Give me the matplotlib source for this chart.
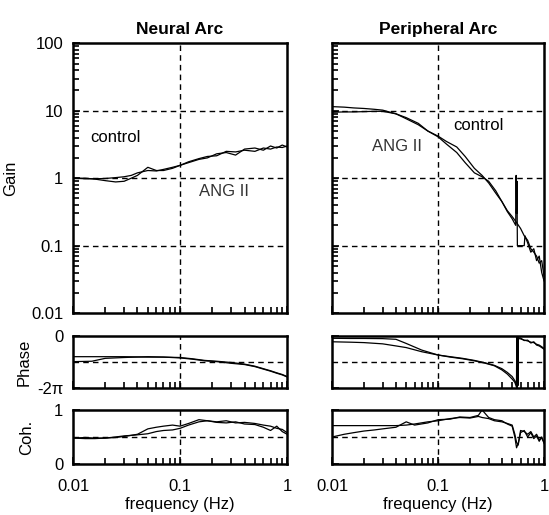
import matplotlib
matplotlib.use("Agg")
import matplotlib.pyplot as plt
from matplotlib.ticker import FixedLocator, LogLocator, NullFormatter
import numpy as np

plt.rcParams["font.family"] = ["Liberation Sans", "DejaVu Sans"]
plt.rcParams["font.size"] = 12

# neural arc, gain
f_ng = [0.01, 0.013, 0.016, 0.02, 0.025, 0.03, 0.035, 0.04, 0.05, 0.06, 0.07, 0.085, 0.1,
        0.12, 0.15, 0.18, 0.22, 0.27, 0.33, 0.4, 0.5, 0.6, 0.7, 0.8, 0.9, 1.0]
ng_control = [1.0, 0.98, 0.98, 0.99, 1.02, 1.05, 1.1, 1.2, 1.3, 1.28, 1.35, 1.45, 1.55,
              1.75, 1.95, 2.1, 2.15, 2.5, 2.45, 2.6, 2.5, 2.8, 2.7, 2.9, 2.85, 3.0]
ng_ang = [1.0, 1.0, 0.97, 0.92, 0.88, 0.9, 1.0, 1.1, 1.45, 1.3, 1.3, 1.4, 1.55,
          1.7, 1.9, 2.0, 2.3, 2.4, 2.2, 2.7, 2.8, 2.6, 3.0, 2.8, 3.1, 2.9]

# peripheral arc, gain
f_pg_control = [0.01, 0.013, 0.016, 0.02, 0.025, 0.03, 0.04, 0.05, 0.065, 0.08, 0.1, 0.12,
                0.15, 0.18, 0.22, 0.26, 0.3, 0.35, 0.4, 0.45, 0.5, 0.55, 0.6, 0.65, 0.7,
                0.75, 0.8, 0.85, 0.9, 0.95, 1.0]
pg_control = [11.5, 11.3, 11.0, 10.8, 10.5, 10.2, 9.0, 7.9, 6.5, 5.0, 4.2, 3.5,
              2.9, 2.1, 1.4, 1.1, 0.85, 0.6, 0.45, 0.33, 0.27, 0.22, 0.18, 0.14, 0.12,
              0.09, 0.08, 0.07, 0.055, 0.06, 0.035]
f_pg_ang = [0.01, 0.013, 0.016, 0.02, 0.025, 0.03, 0.04, 0.05, 0.065, 0.08, 0.1, 0.12,
            0.15, 0.18, 0.22, 0.26, 0.3, 0.35, 0.4, 0.45, 0.5, 0.54, 0.545, 0.55, 0.555,
            0.56, 0.6, 0.65, 0.66, 0.7, 0.75, 0.8, 0.85, 0.9, 0.95, 1.0]
pg_ang = [9.5, 9.6, 9.6, 9.7, 9.8, 9.8, 9.0, 7.6, 6.2, 5.0, 4.1, 3.2,
          2.4, 1.7, 1.2, 1.05, 0.9, 0.65, 0.45, 0.32, 0.25, 0.2, 1.1, 0.3, 0.9,
          0.1, 0.1, 0.1, 0.14, 0.11, 0.08, 0.09, 0.06, 0.07, 0.04, 0.03]

# neural arc, phase (rad)
f_np = [0.01, 0.015, 0.02, 0.03, 0.05, 0.07, 0.1, 0.13, 0.17, 0.22, 0.3, 0.4, 0.5, 0.6,
        0.7, 0.8, 0.9, 1.0]
np_control = [-2.5, -2.5, -2.5, -2.5, -2.55, -2.55, -2.6, -2.75, -2.95, -3.05, -3.2, -3.4,
              -3.65, -3.95, -4.2, -4.45, -4.65, -4.9]
np_ang = [-3.1, -3.05, -2.7, -2.6, -2.5, -2.55, -2.65, -2.8, -3.0, -3.1, -3.3, -3.45,
          -3.7, -4.0, -4.25, -4.5, -4.7, -4.95]

# peripheral arc, phase (rad), wraps near 0.55 Hz
f_pp = [0.01, 0.015, 0.02, 0.03, 0.04, 0.05, 0.07, 0.1, 0.13, 0.17, 0.22, 0.28, 0.34,
        0.4, 0.45, 0.5, 0.53, 0.55, 0.552, 0.555, 0.558, 0.56, 0.563, 0.566, 0.57,
        0.6, 0.65, 0.7, 0.75, 0.8, 0.85, 0.9, 0.95, 1.0]
pp_control = [-0.28, -0.3, -0.3, -0.32, -0.4, -0.9, -1.7, -2.3, -2.5, -2.7, -2.95, -3.25,
              -3.55, -3.95, -4.4, -4.9, -5.4, -5.9, -0.3, -6.1, -0.5, -5.8, -0.2, -6.0,
              -0.3, -0.35, -0.5, -0.6, -0.75, -0.8, -1.0, -1.1, -1.3, -1.5]
pp_ang = [-0.7, -0.75, -0.8, -0.95, -1.2, -1.4, -1.9, -2.3, -2.55, -2.75, -3.0, -3.3,
          -3.6, -4.1, -4.6, -5.2, -5.6, -6.2, -0.1, -5.5, -0.4, -6.2, -0.15, -5.9,
          -0.2, -0.25, -0.55, -0.5, -0.85, -0.7, -1.1, -1.2, -1.4, -1.6]

# neural arc, coherence
f_nc = f_ng
nc_control = [0.48, 0.47, 0.47, 0.48, 0.5, 0.52, 0.53, 0.55, 0.65, 0.68, 0.7, 0.72, 0.7,
              0.75, 0.82, 0.8, 0.78, 0.8, 0.76, 0.77, 0.75, 0.72, 0.7, 0.66, 0.64, 0.58]
nc_ang = [0.48, 0.49, 0.48, 0.48, 0.49, 0.51, 0.53, 0.54, 0.56, 0.6, 0.62, 0.63, 0.66,
          0.72, 0.78, 0.8, 0.77, 0.76, 0.78, 0.74, 0.73, 0.68, 0.62, 0.7, 0.6, 0.55]

# peripheral arc, coherence
f_pc = [0.01, 0.013, 0.016, 0.02, 0.025, 0.03, 0.04, 0.05, 0.06, 0.08, 0.1, 0.13, 0.16,
        0.2, 0.24, 0.26, 0.3, 0.34, 0.4, 0.45, 0.5, 0.53, 0.55, 0.57, 0.6, 0.65, 0.7,
        0.75, 0.8, 0.85, 0.9, 0.95, 1.0]
pc_control = [0.71, 0.71, 0.71, 0.71, 0.71, 0.71, 0.71, 0.72, 0.74, 0.78, 0.8, 0.84, 0.86,
              0.85, 0.88, 0.86, 0.84, 0.8, 0.78, 0.75, 0.72, 0.55, 0.4, 0.35, 0.62, 0.6,
              0.55, 0.6, 0.5, 0.55, 0.45, 0.48, 0.4]
pc_ang = [0.5, 0.55, 0.58, 0.61, 0.63, 0.65, 0.68, 0.78, 0.72, 0.76, 0.82, 0.83, 0.87,
          0.86, 0.9, 1.0, 0.86, 0.82, 0.8, 0.74, 0.7, 0.5, 0.3, 0.38, 0.58, 0.62, 0.5,
          0.58, 0.47, 0.52, 0.42, 0.5, 0.38]

DASH = (0, (4, 3))
LINE_KW = dict(color="black", lw=0.9)


def style_axes(ax, show_y, show_x):
    ax.set_xscale("log")
    ax.set_xlim(0.01, 1)
    for sp in ax.spines.values():
        sp.set_linewidth(1.8)
    ax.xaxis.set_major_locator(FixedLocator([0.01, 0.1, 1]))
    ax.xaxis.set_minor_locator(LogLocator(base=10, subs=np.arange(2, 10)))
    ax.xaxis.set_minor_formatter(NullFormatter())
    ax.tick_params(which="both", direction="in", top=False, right=False, width=1.2)
    ax.tick_params(which="major", length=5, pad=7)
    ax.tick_params(which="minor", length=4)
    ax.tick_params(axis="x", which="major", pad=11)
    ax.axvline(0.1, color="black", lw=1, ls=DASH, zorder=1)
    if not show_x:
        ax.tick_params(axis="x", labelbottom=False)
    if not show_y:
        ax.tick_params(axis="y", labelleft=False)


fig = plt.figure(figsize=(5.49, 5.15), dpi=100)

cols = [0.133, 0.605]
widths = [0.390, 0.386]
gain_data = [(f_ng, ng_control, f_ng, ng_ang), (f_pg_control, pg_control, f_pg_ang, pg_ang)]
phase_data = [(f_np, np_control, np_ang), (f_pp, pp_control, pp_ang)]
coh_data = [(f_nc, nc_control, nc_ang), (f_pc, pc_control, pc_ang)]
titles = ["Neural Arc", "Peripheral Arc"]

for i in range(2):
    left = i == 0
    # gain
    ax = fig.add_axes([cols[i], 0.392, widths[i], 0.524])
    fa, ca, fb, cb = gain_data[i]
    ax.plot(fa, ca, **LINE_KW)
    ax.plot(fb, cb, **LINE_KW)
    ax.set_yscale("log")
    ax.set_ylim(0.01, 100)
    ax.yaxis.set_major_locator(FixedLocator([0.01, 0.1, 1, 10, 100]))
    ax.set_yticklabels(["0.01", "0.1", "1", "10", "100"])
    ax.yaxis.set_minor_locator(LogLocator(base=10, subs=np.arange(2, 10)))
    ax.yaxis.set_minor_formatter(NullFormatter())
    for g in [0.1, 1, 10]:
        ax.axhline(g, color="black", lw=1, ls=DASH, zorder=1)
    style_axes(ax, left, False)
    ax.set_title(titles[i], fontweight="bold", fontsize=12.5, pad=7)
    if left:
        ax.set_ylabel("Gain", labelpad=9)
        ax.text(0.0145, 4.0, "control", fontsize=12, va="center")
        ax.text(0.15, 0.64, "ANG II", fontsize=12, va="center", color="#333333")
    else:
        ax.text(0.14, 6.0, "control", fontsize=12, va="center")
        ax.text(0.0236, 2.95, "ANG II", fontsize=12, va="center", color="#333333")

    # phase
    ax = fig.add_axes([cols[i], 0.2466, widths[i], 0.101])
    fp, pa, pb = phase_data[i]
    ax.plot(fp, pa, **LINE_KW)
    ax.plot(fp, pb, **LINE_KW)
    ax.set_ylim(-2 * np.pi, 0)
    ax.yaxis.set_major_locator(FixedLocator([-2 * np.pi, 0]))
    ax.set_yticklabels(["-2\u03c0", "0"])
    ax.axhline(-np.pi, color="black", lw=1, ls=DASH, zorder=1)
    style_axes(ax, left, False)
    if left:
        ax.set_ylabel("Phase", labelpad=4)

    # coherence
    ax = fig.add_axes([cols[i], 0.099, widths[i], 0.105])
    fc, ca, cb = coh_data[i]
    ax.plot(fc, ca, **LINE_KW)
    ax.plot(fc, cb, **LINE_KW)
    ax.set_ylim(0, 1)
    ax.yaxis.set_major_locator(FixedLocator([0, 1]))
    ax.set_yticklabels(["0", "1"])
    ax.axhline(0.5, color="black", lw=1, ls=DASH, zorder=1)
    style_axes(ax, left, True)
    ax.set_xticklabels(["0.01", "0.1", "1"])
    ax.set_xlabel("frequency (Hz)", labelpad=2)
    if left:
        ax.set_ylabel("Coh.", labelpad=14)

fig.savefig("out.png", dpi=100)
